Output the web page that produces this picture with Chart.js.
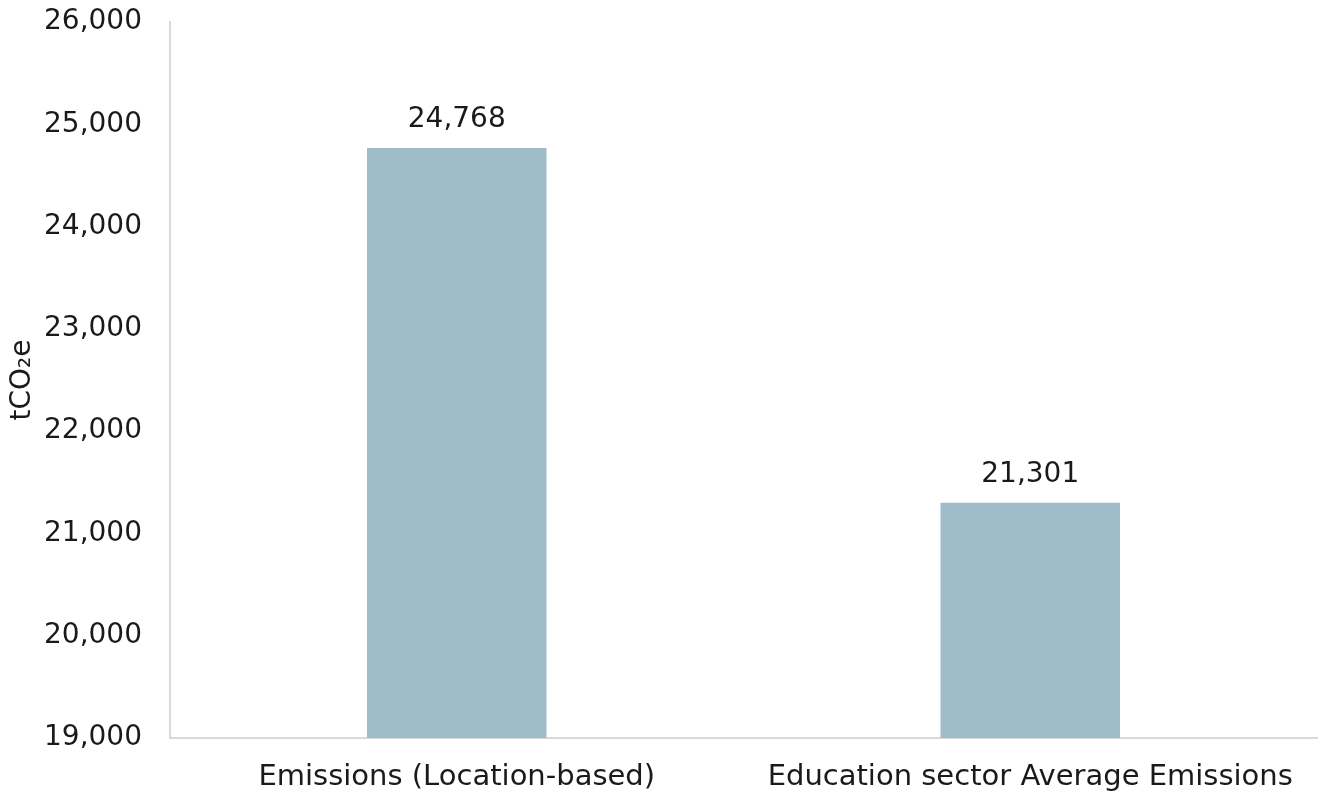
<!DOCTYPE html>
<html>
<head>
<meta charset="utf-8">
<script src="https://cdn.jsdelivr.net/npm/chart.js@4"></script>
<style>
  html, body { margin: 0; padding: 0; background: #fff; }
  #wrap { width: 1319px; height: 795px; }
</style>
</head>
<body>
<div id="wrap"><canvas id="chart"></canvas></div>
<script>
const categories = ['Emissions (Location-based)', 'Education sector Average Emissions'];
const emissions = [24768, 21301];
const yMin = 19000;
const yMax = 26000;
const yStep = 1000;
const yTitle = 'tCO₂e';

const FONT = '"DejaVu Sans", sans-serif';

// draws the value above each bar
const valueLabels = {
    id: 'valueLabels',
    afterDatasetsDraw(chart) {
        const ctx = chart.ctx;
        const meta = chart.getDatasetMeta(0);
        ctx.save();
        ctx.font = '28px ' + FONT;
        ctx.fillStyle = '#1a1a1a';
        ctx.textAlign = 'center';
        ctx.textBaseline = 'bottom';
        meta.data.forEach((bar, i) => {
            ctx.fillText(emissions[i].toLocaleString('en-US'), bar.x, bar.y - 14);
        });
        ctx.restore();
    }
};

new Chart(document.getElementById('chart'), {
    type: 'bar',
    data: {
        labels: categories,
        datasets: [{
            data: emissions,
            backgroundColor: '#9fbcc9',
            barPercentage: 0.313,
            categoryPercentage: 1
        }]
    },
    options: {
        responsive: true,
        maintainAspectRatio: false,
        animation: false,
        layout: { padding: { top: 22, right: 2, left: 6, bottom: 0 } },
        plugins: {
            legend: { display: false },
            tooltip: { enabled: false }
        },
        scales: {
            x: {
                grid: { display: false, drawTicks: false },
                border: { color: '#d9d9d9', width: 2 },
                ticks: {
                    color: '#1a1a1a',
                    font: { family: FONT, size: 29 },
                    padding: 22,
                    maxRotation: 0,
                    autoSkip: false
                },
                afterFit: scale => {
                    scale.height = 57;
                    scale.paddingLeft = 0;
                    scale.paddingRight = 0;
                }
            },
            y: {
                min: yMin,
                max: yMax,
                grid: { display: false, drawTicks: false },
                border: { color: '#d9d9d9', width: 2 },
                title: {
                    display: true,
                    text: yTitle,
                    color: '#1a1a1a',
                    font: { family: FONT, size: 28 },
                    padding: 0
                },
                ticks: {
                    stepSize: yStep,
                    color: '#1a1a1a',
                    font: { family: FONT, size: 28 },
                    padding: 28,
                    callback: v => v.toLocaleString('en-US')
                },
                afterFit: scale => {
                    scale.width = 164;
                    scale.paddingTop = 0;
                    scale.paddingBottom = 0;
                }
            }
        }
    },
    plugins: [valueLabels]
});
</script>
</body>
</html>
